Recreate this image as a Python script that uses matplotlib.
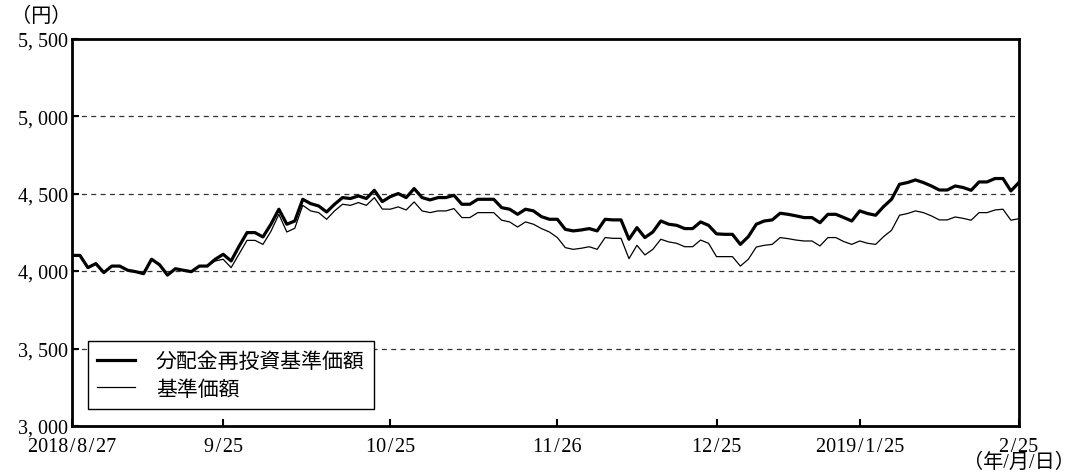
import numpy as np
import matplotlib
matplotlib.use("Agg")
import matplotlib.pyplot as plt

plt.rcParams['font.family'] = ['Liberation Serif', 'Noto Sans CJK JP', 'DejaVu Sans']

# 基準価額の推移 (2018/8/27 - 2019/2/25, 営業日ベース)
reinvested = [4101, 4101, 4022, 4048, 3990, 4032, 4032, 4005, 3996, 3983,
              4076, 4041, 3974, 4015, 4005, 3996, 4032, 4032, 4076, 4108,
              4065, 4160, 4248, 4248, 4220, 4302, 4399, 4302, 4323, 4463,
              4435, 4420, 4381, 4431, 4474, 4468, 4485, 4468, 4521, 4448,
              4480, 4500, 4474, 4532, 4474, 4459, 4474, 4474, 4489, 4431,
              4431, 4463, 4463, 4463, 4409, 4399, 4366, 4399, 4388, 4351,
              4334, 4334, 4269, 4259, 4265, 4274, 4259, 4334, 4330, 4330,
              4205, 4280, 4216, 4252, 4323, 4302, 4295, 4274, 4274, 4317,
              4295, 4240, 4237, 4237, 4172, 4222, 4302, 4323, 4330, 4373,
              4366, 4356, 4345, 4345, 4312, 4366, 4366, 4345, 4323, 4388,
              4371, 4360, 4416, 4463, 4560, 4571, 4588, 4571, 4549, 4523,
              4523, 4549, 4539, 4521, 4575, 4575, 4597, 4597, 4517, 4571]

nav = [4101, 4101, 4022, 4048, 3990, 4032, 4032, 4005, 3996, 3983,
       4076, 4041, 3974, 4015, 4005, 3996, 4032, 4032, 4065, 4076,
       4022, 4110, 4198, 4198, 4172, 4256, 4366, 4252, 4276, 4424,
       4388, 4377, 4334, 4388, 4431, 4424, 4442, 4424, 4474, 4400,
       4399, 4414, 4394, 4446, 4388, 4377, 4388, 4388, 4403, 4345,
       4345, 4377, 4377, 4377, 4328, 4317, 4284, 4317, 4302, 4274,
       4252, 4216, 4151, 4140, 4147, 4157, 4140, 4216, 4211, 4211,
       4080, 4166, 4104, 4140, 4205, 4188, 4179, 4157, 4157, 4200,
       4179, 4093, 4093, 4093, 4032, 4076, 4155, 4166, 4172, 4216,
       4209, 4200, 4194, 4194, 4162, 4216, 4216, 4190, 4172, 4194,
       4179, 4172, 4222, 4263, 4360, 4371, 4388, 4377, 4356, 4330,
       4330, 4349, 4340, 4328, 4377, 4377, 4394, 4399, 4328, 4338]

tick_idx = [0, 19, 40, 61, 81, 99, 119]
tick_labels = ["2018/8/27", "9/25", "10/25", "11/26", "12/25", "2019/1/25", "2/25"]
x_unit = "（年/月/日）"
y_ticks = [3000, 3500, 4000, 4500, 5000, 5500]

fig = plt.figure(figsize=(10.68, 4.77), dpi=100)
ax = fig.add_axes([0.0674, 0.1048, 0.8866, 0.8122])

x = np.arange(len(reinvested))
ax.plot(x, reinvested, color="black", lw=2.3, label="分配金再投資基準価額", zorder=3)
ax.plot(x, nav, color="black", lw=0.9, label="基準価額", zorder=3)

for v in y_ticks[1:-1]:
    ax.axhline(v, color="#333333", lw=0.9, ls=(0, (4, 3.5)), zorder=1)

ax.set_xlim(0, len(reinvested) - 1)
ax.set_ylim(3000, 5500)
ax.set_yticks(y_ticks)
ax.set_yticklabels([f"{v // 1000:d}, {v % 1000:03d}" for v in y_ticks])
ax.set_xticks(tick_idx)
# 明朝体風にスラッシュの前後を少し空ける
xl = [t.replace("/", "\u200a/\u200a") for t in tick_labels]
xl[-1] = xl[-1] + "\n" + x_unit  # 単位は最後のラベルの下に
ax.set_xticklabels(xl, linespacing=0.78)
ax.tick_params(direction="in", length=5, width=1.5, labelsize=14.5, pad=3)
ax.tick_params(axis="x", pad=8)
for s in ax.spines.values():
    s.set_linewidth(2)

fig.text(0.039, 0.965, "（円）", fontsize=14.5, ha="center", va="center",
         family=['Noto Sans CJK JP'])

leg = ax.legend(loc="lower left", bbox_to_anchor=(0.017, 0.044), borderaxespad=0,
                fancybox=False, edgecolor="black", framealpha=1,
                handlelength=1.8, handletextpad=1.0, labelspacing=0.25,
                borderpad=0.45, prop={'family': ['Noto Sans CJK JP'], 'size': 15})
leg.get_frame().set_linewidth(1.0)

fig.savefig("out.png", dpi=100)
